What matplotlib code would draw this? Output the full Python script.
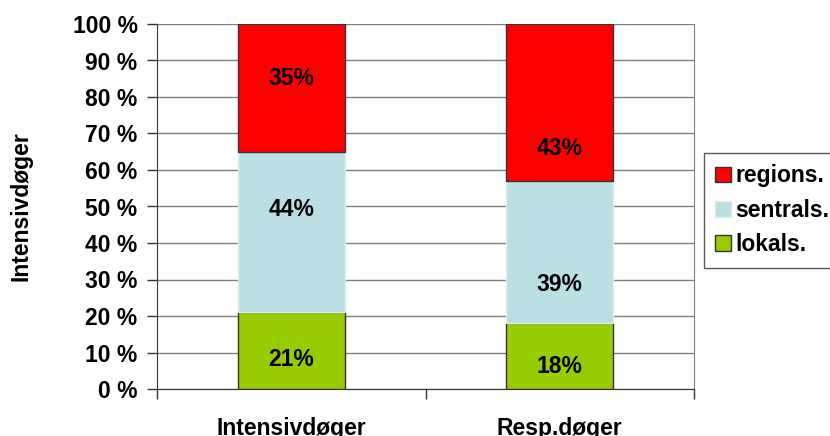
import matplotlib
matplotlib.use("Agg")
import matplotlib.pyplot as plt
import numpy as np

categories = ["Intensivdøger", "Resp.døger"]
lokals = [21, 18]
sentrals = [44, 39]
regions = [35, 43]
series_names = ["lokals.", "sentrals.", "regions."]
y_ticks = [0, 10, 20, 30, 40, 50, 60, 70, 80, 90, 100]
y_tick_labels = [f"{v} %" for v in y_ticks]
y_title = "Intensivdøger"

colors = {"lokals.": "#99CC00", "sentrals.": "#BBE0E3", "regions.": "#FF0000"}
edges = {"lokals.": "#333333", "sentrals.": "#DDEEEE", "regions.": "#333333"}

# hand-placed height (in % units) of each value label, per series and bar
label_pos = {
    "lokals.": [8.1, 6.1],
    "sentrals.": [49.2, 28.7],
    "regions.": [85.0, 65.9],
}

FS = 16.5

plt.rcParams["font.family"] = ["Liberation Sans", "DejaVu Sans"]
plt.rcParams["font.weight"] = "bold"

fig = plt.figure(figsize=(8.3, 4.36), dpi=100)
ax = fig.add_axes([157 / 830, 1 - 389 / 436, (694 - 157) / 830, (389 - 24) / 436])

x = np.arange(len(categories)) + 0.5
width = 0.40
bottom = np.zeros(len(categories))
for name, vals in zip(series_names, [lokals, sentrals, regions]):
    vals = np.array(vals, dtype=float)
    ax.bar(x, vals, width, bottom=bottom, color=colors[name],
           edgecolor=edges[name], linewidth=1.0, label=name, zorder=3)
    for xi, ly, v in zip(x, label_pos[name], vals):
        ax.text(xi, ly, f"{int(round(v))}%", ha="center", va="center",
                fontsize=FS, fontweight="bold", zorder=4)
    bottom += vals

ax.set_xlim(0, 2)
ax.set_ylim(0, 100)
ax.set_yticks(y_ticks)
ax.set_yticklabels(y_tick_labels, fontsize=FS, fontweight="bold")
ax.yaxis.grid(True, color="#808080", linewidth=1.0, zorder=0)
ax.set_axisbelow(True)

ax.set_xticks([0, 1, 2])
ax.set_xticklabels([])
ax.tick_params(axis="x", direction="out", length=7, width=1, color="#333333")
ax.tick_params(axis="y", direction="out", length=7, width=1, color="#333333", pad=7)

# category names sit below the axis, partly running off the lower edge
for xi, lab in zip(x, categories):
    ax.text(xi, -(417 - 389) / 365 * 100, lab, ha="center", va="top",
            fontsize=FS, fontweight="bold", clip_on=False)

ax.spines["left"].set_color("#333333")
ax.spines["bottom"].set_color("#333333")
ax.spines["right"].set_color("#808080")
ax.spines["top"].set_visible(False)

ax.set_ylabel(y_title, fontsize=FS, fontweight="bold", labelpad=0)
ax.yaxis.label.set_verticalalignment("center")
ax.yaxis.set_label_coords((21 - 157) / 537, 0.5)

handles, labels = ax.get_legend_handles_labels()
leg = fig.legend(handles[::-1], labels[::-1], loc="upper left",
                 bbox_to_anchor=(704 / 830, 1 - 153 / 436), borderaxespad=0,
                 frameon=True, fancybox=False, edgecolor="#333333", fontsize=FS,
                 handlelength=0.68, handleheight=0.68, handletextpad=0.2,
                 labelspacing=0.5, borderpad=0.5)
for t in leg.get_texts():
    t.set_fontweight("bold")
leg.get_frame().set_linewidth(1.0)

fig.savefig("out.png", dpi=100)
